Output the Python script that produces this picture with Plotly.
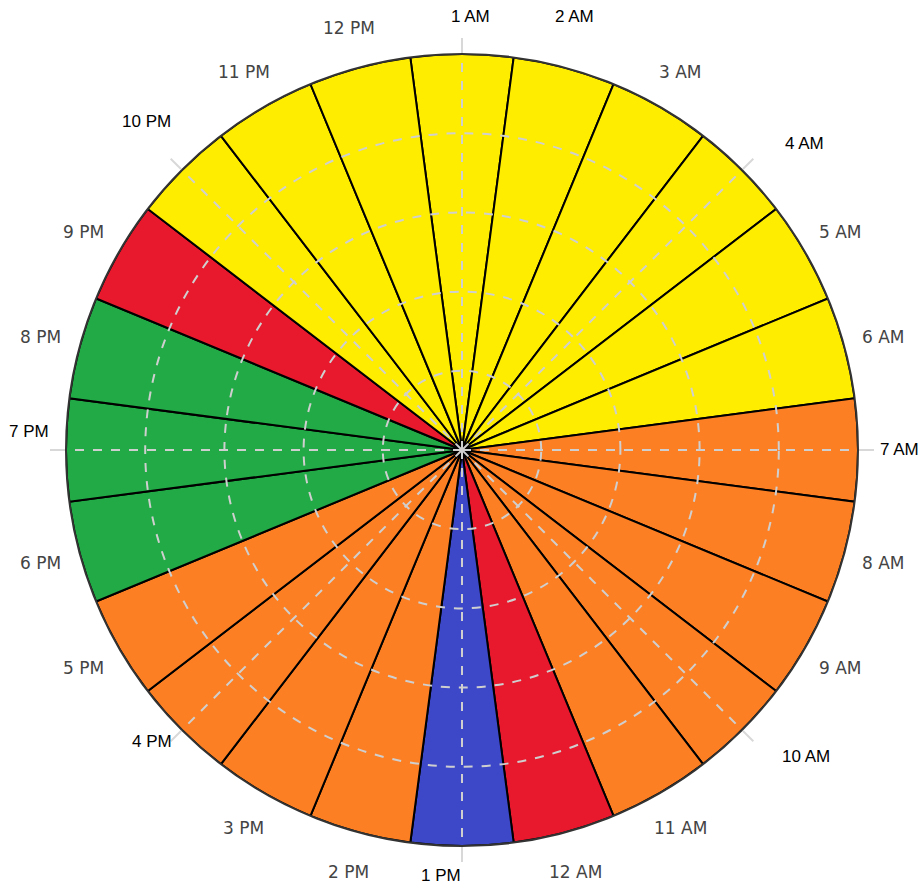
import math
import plotly.graph_objects as go

# ---- data ----
hours = ["1 AM", "2 AM", "3 AM", "4 AM", "5 AM", "6 AM", "7 AM", "8 AM", "9 AM",
         "10 AM", "11 AM", "12 AM", "1 PM", "2 PM", "3 PM", "4 PM", "5 PM", "6 PM",
         "7 PM", "8 PM", "9 PM", "10 PM", "11 PM", "12 PM"]
values = [5] * 24
levels = ["yellow", "yellow", "yellow", "yellow", "yellow", "yellow",
          "orange", "orange", "orange", "orange", "orange", "red",
          "blue", "orange", "orange", "orange", "orange", "green",
          "green", "green", "red", "yellow", "yellow", "yellow"]
grey_labels = ["3 AM", "5 AM", "6 AM", "8 AM", "9 AM", "11 AM", "12 AM", "2 PM",
               "3 PM", "5 PM", "6 PM", "8 PM", "9 PM", "11 PM", "12 PM"]
black_labels = ["1 AM", "2 AM", "4 AM", "7 AM", "10 AM", "1 PM", "4 PM", "7 PM", "10 PM"]

palette = {"yellow": "#FFED00", "orange": "#FD7F23", "red": "#E8192C",
           "green": "#21AA46", "blue": "#3C48C8"}

# ---- layout geometry ----
W, H = 922, 884
ML, MR, MT, MB = 66, 64, 53, 37
PW, PH = W - ML - MR, H - MT - MB
CX, CY = ML + PW / 2, MT + PH / 2
RAD = min(PW, PH) / 2


def to_paper(px, py):
    return (px - ML) / PW, 1 - (py - MT) / PH


fig = go.Figure()
fig.add_trace(go.Barpolar(
    r=values, theta=hours,
    marker=dict(color=[palette[c] for c in levels],
                line=dict(color="black", width=2)),
    subplot="polar", showlegend=False, hoverinfo="theta"))

# empty trace on an overlaid polar used to draw the dashed grid above the bars
fig.add_trace(go.Scatterpolar(r=[0], theta=[0], mode="markers",
                              marker=dict(size=1, color="rgba(0,0,0,0)"),
                              subplot="polar2", showlegend=False, hoverinfo="skip"))

step = 360 / len(hours)
annotations = []
for name in grey_labels:
    ang = math.radians(hours.index(name) * step)
    R = RAD * 1.103
    x, y = to_paper(CX + R * math.sin(ang), CY - R * math.cos(ang))
    annotations.append(dict(x=x, y=y, xref="paper", yref="paper", text=name,
                            showarrow=False, xanchor="center", yanchor="middle",
                            font=dict(family="DejaVu Sans", size=17, color="#444444")))

# small black labels (text placement offsets in pixels from centre)
black_offsets = [(8.5, -433), (112.5, -433), (342.5, -307), (437.5, -1), (343.5, 306),
                 (-21.5, 426), (-310.5, 291), (-433.5, -18), (-315.5, -328)]
for name, (dx, dy) in zip(black_labels, black_offsets):
    x, y = to_paper(CX + dx, CY + dy)
    annotations.append(dict(x=x, y=y, xref="paper", yref="paper", text=name,
                            showarrow=False, xanchor="center", yanchor="middle",
                            font=dict(family="Liberation Sans", size=17, color="#000000")))

fig.update_layout(
    width=W, height=H,
    margin=dict(l=ML, r=MR, t=MT, b=MB, autoexpand=False),
    paper_bgcolor="white",
    polar=dict(
        domain=dict(x=[0, 1], y=[0, 1]),
        bgcolor="white",
        bargap=0,
        radialaxis=dict(range=[0, 5], visible=False),
        angularaxis=dict(type="category", categoryarray=hours, rotation=90,
                         direction="clockwise", showgrid=False, showticklabels=False,
                         ticks="", showline=False),
    ),
    polar2=dict(
        domain=dict(x=[0, 1], y=[0, 1]),
        bgcolor="rgba(0,0,0,0)",
        radialaxis=dict(range=[0, 5], tickvals=[1, 2, 3, 4], showticklabels=False,
                        ticks="", showline=False, gridcolor="#cfcfcf",
                        griddash="dash", gridwidth=1.5),
        angularaxis=dict(rotation=90, direction="clockwise", tickmode="linear",
                         tick0=0, dtick=45, showticklabels=False, ticks="outside",
                         ticklen=15, tickcolor="#d8d8d8", tickwidth=1.5,
                         gridcolor="#cfcfcf", griddash="dash", gridwidth=1.5,
                         showline=True, linecolor="#333333", linewidth=2),
    ),
    annotations=annotations,
)

fig.write_html("out.html",
               config={"displayModeBar": False},
               post_script="document.body.style.margin='0px';"
                           "document.body.style.overflow='hidden';")
